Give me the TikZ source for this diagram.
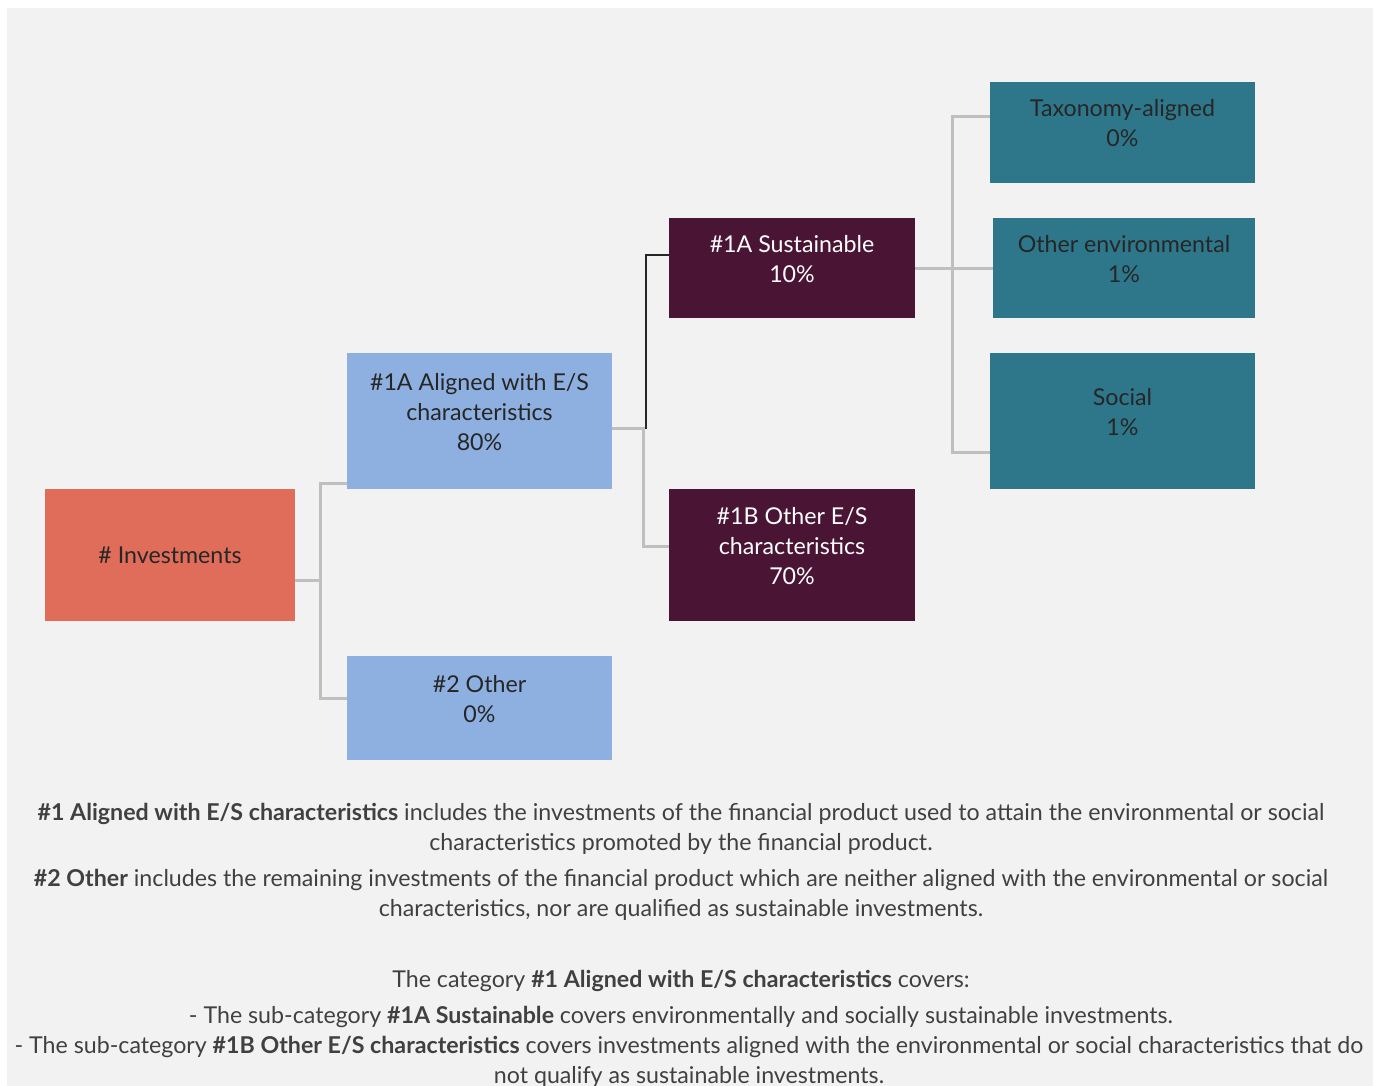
\documentclass[tikz,border=0pt]{standalone}
\usepackage{fontspec}
\setmainfont{Lato}
\usetikzlibrary{positioning,calc}
\definecolor{invcolor}{RGB}{224,108,90}
\definecolor{aligncolor}{RGB}{142,176,224}
\definecolor{sustcolor}{RGB}{74,21,53}
\definecolor{envcolor}{RGB}{46,119,138}
\definecolor{bgcolor}{RGB}{242,242,242}
\definecolor{txtcolor}{RGB}{38,38,38}
\definecolor{notecolor}{RGB}{64,64,64}
\definecolor{linkcolor}{RGB}{191,191,191}

\begin{document}
\begin{tikzpicture}[
    x=0.5pt, y=-0.5pt,
    every node/.style={font=\fontsize{11.6}{15}\selectfont},
    box/.style={rectangle, inner sep=0pt, minimum width=132.5pt, minimum height=68pt},
    boxtext/.style={align=center, text=txtcolor, yshift=4.5pt},
    link/.style={draw=linkcolor, line width=1.5pt},
    note/.style={align=center, text=notecolor}
]
    % Background
    \useasboundingbox (0,0) rectangle (1375,1086);
    \fill[white] (0,0) rectangle (1375,1086);
    \fill[bgcolor] (7,8) rectangle (1373,1086);

    % Boxes
    \node[box, fill=invcolor, minimum width=125pt, minimum height=66pt] (inv) at (170,555) {};
    \node[boxtext, yshift=-4.5pt] at (inv.center) {\# Investments};
    \node[box, fill=aligncolor] (aligned) at (479.5,421) {};
    \node[boxtext] at (aligned.center) {\#1A Aligned with E/S\\characteristics\\80\%};
    \node[box, fill=aligncolor, minimum height=52pt] (other2) at (479.5,708) {};
    \node[boxtext] at (other2.center) {\#2 Other\\0\%};
    \node[box, fill=sustcolor, minimum width=123pt, minimum height=50pt] (sust) at (792,268) {};
    \node[boxtext, text=white] at (sust.center) {\#1A Sustainable\\10\%};
    \node[box, fill=sustcolor, minimum width=123pt, minimum height=66pt] (es1b) at (792,555) {};
    \node[boxtext, text=white] at (es1b.center) {\#1B Other E/S\\characteristics\\70\%};
    \node[box, fill=envcolor, minimum height=50.5pt] (tax) at (1122.5,132.5) {};
    \node[boxtext] at (tax.center) {Taxonomy-aligned\\0\%};
    \node[box, fill=envcolor, minimum width=131pt, minimum height=50pt] (env) at (1124,268) {};
    \node[boxtext] at (env.center) {Other environmental\\1\%};
    \node[box, fill=envcolor] (social) at (1122.5,421) {};
    \node[boxtext] at (social.center) {Social\\1\%};

    % Links
    \draw[link] ([yshift=-12.5pt]inv.east) -- ++(25,0) |- ([yshift=3pt]aligned.south west);
    \draw[link] ([yshift=-12.5pt]inv.east) -- ++(25,0) |- ([yshift=5pt]other2.west);
    \draw[link, draw=black!85, line width=1pt] ([yshift=-3.5pt]aligned.east) -- ++(34,0) |- ([yshift=6.5pt]sust.west);
    \draw[link] ([yshift=-3.5pt]aligned.east) -- ++(31,0) |- ([yshift=4.5pt]es1b.west);
    \draw[link] (sust.east) -- ++(37,0) |- ([yshift=7.75pt]tax.west);
    \draw[link] (sust.east) -- (env.west);
    \draw[link] (sust.east) -- ++(37,0) |- ([yshift=-15.5pt]social.west);

    % Notes
    \node[note] (note1) at (681,829) {\textbf{\#1 Aligned with E/S characteristics} includes the investments of the financial product used to attain the environmental or social\\characteristics promoted by the financial product.};
    \node[note] (note2) at (681,895) {\textbf{\#2 Other} includes the remaining investments of the financial product which are neither aligned with the environmental or social\\characteristics, nor are qualified as sustainable investments.};
    \node[note] (note3) at (681,981) {The category \textbf{\#1 Aligned with E/S characteristics} covers:};
    \node[note] (note4) at (681,1017) {- The sub-category \textbf{\#1A Sustainable} covers environmentally and socially sustainable investments.};
    \node[note] (note5) at (689,1062) {- The sub-category \textbf{\#1B Other E/S characteristics} covers investments aligned with the environmental or social characteristics that do\\not qualify as sustainable investments.};
\end{tikzpicture}
\end{document}
